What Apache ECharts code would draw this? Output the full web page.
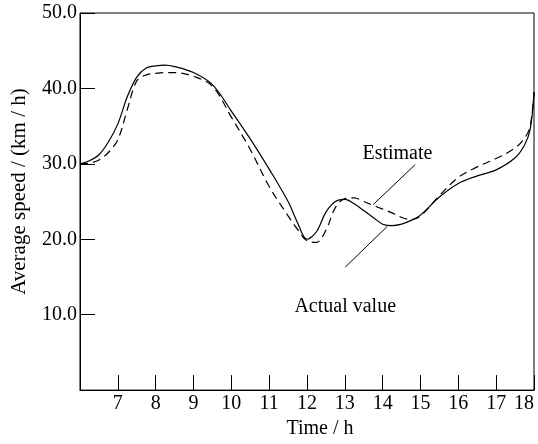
<!DOCTYPE html>
<html>
<head>
<meta charset="utf-8">
<script src="https://cdn.jsdelivr.net/npm/echarts@6/dist/echarts.min.js"></script>
<style>
  html, body { margin: 0; padding: 0; background: #fff; }
  #chart { width: 538px; height: 444px; }
</style>
</head>
<body>
<div id="chart"></div>
<script>
// sample times (h)
const hours = [6, 6.25, 6.5, 6.75, 7, 7.25, 7.5, 7.75, 8, 8.25, 8.5, 9, 9.5, 10, 10.5, 11, 11.5, 11.75,
  12, 12.25, 12.5, 12.75, 13, 13.25, 13.5, 13.75, 14, 14.25, 14.5, 14.75, 15, 15.5, 16, 16.5, 17, 17.5, 17.75, 17.9, 18];
// solid curve
const actualSpeed = [30.0, 30.4, 31.2, 32.9, 35.3, 38.9, 41.5, 42.7, 43.0, 43.1, 42.9, 42.1, 40.5, 37.0, 33.3, 29.3, 25.0, 22.2,
  20.0, 21.0, 23.6, 25.0, 25.3, 24.7, 23.8, 22.9, 22.0, 21.8, 22.0, 22.5, 23.2, 25.6, 27.4, 28.4, 29.2, 30.8, 32.5, 34.6, 39.5];
// dashed curve
const estimateSpeed = [30.0, 30.1, 30.5, 31.5, 33.2, 37.2, 41.0, 41.8, 42.0, 42.1, 42.1, 41.6, 40.3, 36.2, 31.9, 27.0, 23.1, 21.3,
  19.8, 19.6, 21.2, 24.2, 25.4, 25.5, 25.0, 24.5, 24.0, 23.5, 22.9, 22.6, 23.1, 25.8, 28.2, 29.6, 30.7, 32.1, 33.4, 35.0, 39.5];

// annotation text and leader lines (data coords)
const labelNames = ['Estimate', 'Actual value'];
const labelAt = [[14.39, 31.3], [13.01, 11.1]];
const leaderLines = [
  [[14.86, 29.9], [13.75, 24.6]],
  [[13.01, 16.3], [14.12, 21.7]]
];

const font = 'Liberation Serif';

const pairs = (ys) => hours.map((h, i) => [h, ys[i]]);

const chart = echarts.init(document.getElementById('chart'));
chart.setOption({
  animation: false,
  backgroundColor: '#fff',
  grid: {
    left: 80, right: 4, top: 13, bottom: 53,
    show: true, borderColor: '#000', borderWidth: 1
  },
  xAxis: {
    type: 'value',
    min: 6, max: 18, interval: 1,
    name: 'Time / h',
    nameLocation: 'middle',
    nameGap: 26,
    nameTextStyle: { fontFamily: font, fontSize: 20, color: '#000', padding: [0, 0, 0, 26] },
    axisLine: { lineStyle: { color: '#000', width: 1 } },
    axisTick: { inside: true, length: 15, lineStyle: { color: '#000' } },
    axisLabel: {
      fontFamily: font, fontSize: 20, color: '#000', margin: 4,
      alignMaxLabel: 'right',
      formatter: (v) => (v === 6 ? '' : String(v))
    },
    splitLine: { show: false }
  },
  yAxis: {
    type: 'value',
    min: 0, max: 50, interval: 10,
    name: 'Average speed / (km / h)',
    nameLocation: 'middle',
    nameGap: 50,
    nameTextStyle: { fontFamily: font, fontSize: 21, color: '#000', padding: [0, 0, 0, 20] },
    axisLine: { lineStyle: { color: '#000', width: 1 } },
    axisTick: { inside: true, length: 15, lineStyle: { color: '#000' } },
    axisLabel: {
      fontFamily: font, fontSize: 20, color: '#000', margin: 3,
      formatter: (v) => (v === 0 ? '' : v.toFixed(1))
    },
    splitLine: { show: false }
  },
  series: [
    {
      name: 'Actual value',
      type: 'line',
      data: pairs(actualSpeed),
      smooth: 0.35,
      showSymbol: false,
      lineStyle: { color: '#000', width: 1.2 },
      markLine: {
        silent: true,
        symbol: 'none',
        label: { show: false },
        lineStyle: { color: '#000', width: 1, type: 'solid' },
        data: leaderLines.map((l) => [{ coord: l[0] }, { coord: l[1] }])
      },
      markPoint: {
        silent: true,
        symbol: 'circle',
        symbolSize: 0,
        label: {
          show: true, position: 'inside', formatter: '{b}',
          fontFamily: font, fontSize: 20, color: '#000'
        },
        data: labelNames.map((n, i) => ({ name: n, coord: labelAt[i] }))
      }
    },
    {
      name: 'Estimate',
      type: 'line',
      data: pairs(estimateSpeed),
      smooth: 0.35,
      showSymbol: false,
      lineStyle: { color: '#000', width: 1.2, type: [8, 5] }
    }
  ]
});
</script>
</body>
</html>
